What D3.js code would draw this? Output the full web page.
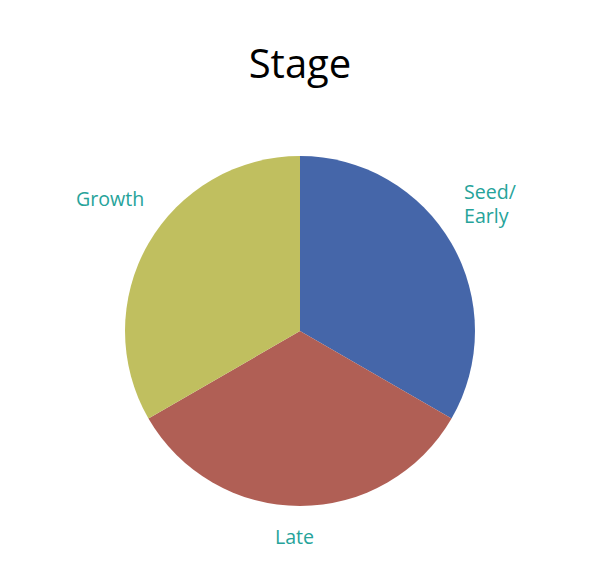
<!DOCTYPE html>
<html><head><meta charset="utf-8">
<script src="https://cdn.jsdelivr.net/npm/d3@7"></script>
<style>body{margin:0;background:#fff}</style>
</head><body>
<svg id="c" width="600" height="571"></svg>
<script>
const categories = ["Seed/Early", "Late", "Growth"];
const values = [1, 1, 1];
const colors = ["#4566A9", "#B05F55", "#C0BF5F"];
const labelLines = [["Seed/", "Early"], ["Late"], ["Growth"]];

const svg = d3.select("#c");
const cx = 300, cy = 331, r = 175;
svg.append("text").attr("x", 300).attr("y", 78).attr("text-anchor", "middle")
  .attr("font-family", "Open Sans").attr("font-size", 40).attr("fill", "#000").text("Stage");

const pie = d3.pie().sort(null).value(d => d)(values);
const arc = d3.arc().innerRadius(0).outerRadius(r);
const g = svg.append("g").attr("transform", `translate(${cx},${cy})`);
g.selectAll("path").data(pie).join("path").attr("d", arc).attr("fill", (d, i) => colors[i]);

const labelPos = [[464, 199], [275, 544], [76, 206]];
labelLines.forEach((lines, i) => {
  const t = svg.append("text").attr("font-family", "Open Sans").attr("font-size", 19.6).attr("fill", "#26A39A");
  lines.forEach((l, j) => t.append("tspan").attr("x", labelPos[i][0]).attr("y", labelPos[i][1] + j * 24).text(l));
});
</script>
</body></html>
